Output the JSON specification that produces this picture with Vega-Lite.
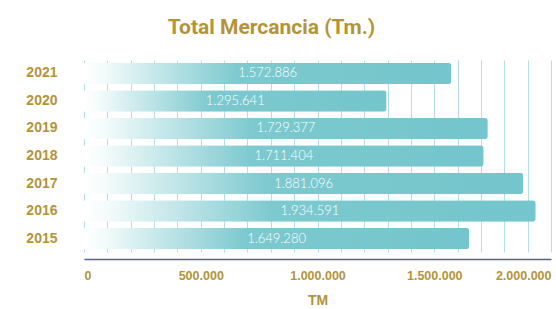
{
  "$schema": "https://vega.github.io/schema/vega-lite/v6.json",
  "width": 467,
  "height": 192,
  "autosize": {"type": "none"},
  "padding": {"left": 84, "top": 60, "right": 5, "bottom": 57},
  "background": "#ffffff",
  "title": {
    "text": "Total Mercancia (Tm.)",
    "font": "Roboto",
    "fontSize": 21,
    "fontWeight": "bold",
    "color": "#b39439",
    "anchor": "middle",
    "offset": 22,
    "dx": -46
  },
  "config": {
    "view": {"stroke": null},
    "locale": {"number": {"decimal": ",", "thousands": ".", "grouping": [3], "currency": ["€", ""]}}
  },
  "data": {
    "values": [
      {"year": "2021", "value": 1572886},
      {"year": "2020", "value": 1295641},
      {"year": "2019", "value": 1729377},
      {"year": "2018", "value": 1711404},
      {"year": "2017", "value": 1881096},
      {"year": "2016", "value": 1934591},
      {"year": "2015", "value": 1649280}
    ]
  },
  "encoding": {
    "y": {
      "field": "year",
      "type": "nominal",
      "sort": "descending",
      "scale": {"paddingInner": 0.22, "paddingOuter": 0.1},
      "axis": {
        "title": null,
        "domain": false,
        "ticks": false,
        "labelPadding": 27,
        "labelFont": "Liberation Sans",
        "labelFontSize": 14,
        "labelFontWeight": "bold",
        "labelColor": "#b39439"
      }
    }
  },
  "resolve": {"axis": {"x": "independent"}},
  "layer": [
    {
      "mark": {
        "type": "bar",
        "cornerRadiusTopRight": 3,
        "cornerRadiusBottomRight": 3,
        "fill": {
          "gradient": "linear",
          "x1": 0, "x2": 1, "y1": 0, "y2": 0,
          "stops": [
            {"offset": 0, "color": "#ffffff"},
            {"offset": 0.05, "color": "#f4fbfb"},
            {"offset": 0.42, "color": "#7cc9cf"},
            {"offset": 1, "color": "#74c6cc"}
          ]
        }
      },
      "encoding": {
        "x": {
          "field": "value",
          "type": "quantitative",
          "scale": {"domain": [0, 2000000], "nice": false},
          "axis": {
            "orient": "top",
            "title": null,
            "values": [0, 100000, 200000, 300000, 400000, 500000, 600000, 700000, 800000, 900000, 1000000, 1100000, 1200000, 1300000, 1400000, 1500000, 1600000, 1700000, 1800000, 1900000, 2000000],
            "grid": true,
            "gridColor": "#b5dfe3",
            "gridWidth": 1,
            "labels": false,
            "ticks": false,
            "domain": false
          }
        }
      }
    },
    {
      "mark": {
        "type": "text",
        "color": "#ffffff",
        "font": "Lato",
        "fontSize": 13,
        "fontWeight": 300,
        "baseline": "middle",
        "align": "center"
      },
      "encoding": {
        "x": {
          "field": "value",
          "type": "quantitative",
          "stack": "zero",
          "bandPosition": 0.5,
          "axis": {
            "orient": "bottom",
            "title": "TM",
            "values": [0, 500000, 1000000, 1500000, 2000000],
            "format": ",d",
            "grid": false,
            "ticks": false,
            "offset": 7,
            "domainColor": "#5b5f99",
            "domainWidth": 1.5,
            "labelPadding": 10,
            "labelFont": "Liberation Sans",
            "labelFontSize": 12.5,
            "labelFontWeight": "bold",
            "labelColor": "#b39439",
            "titleFont": "Liberation Sans",
            "titleFontSize": 14,
            "titleFontWeight": "bold",
            "titleColor": "#b39439",
            "titlePadding": 12
          }
        },
        "text": {"field": "value", "type": "quantitative", "format": ",d"}
      }
    }
  ]
}
